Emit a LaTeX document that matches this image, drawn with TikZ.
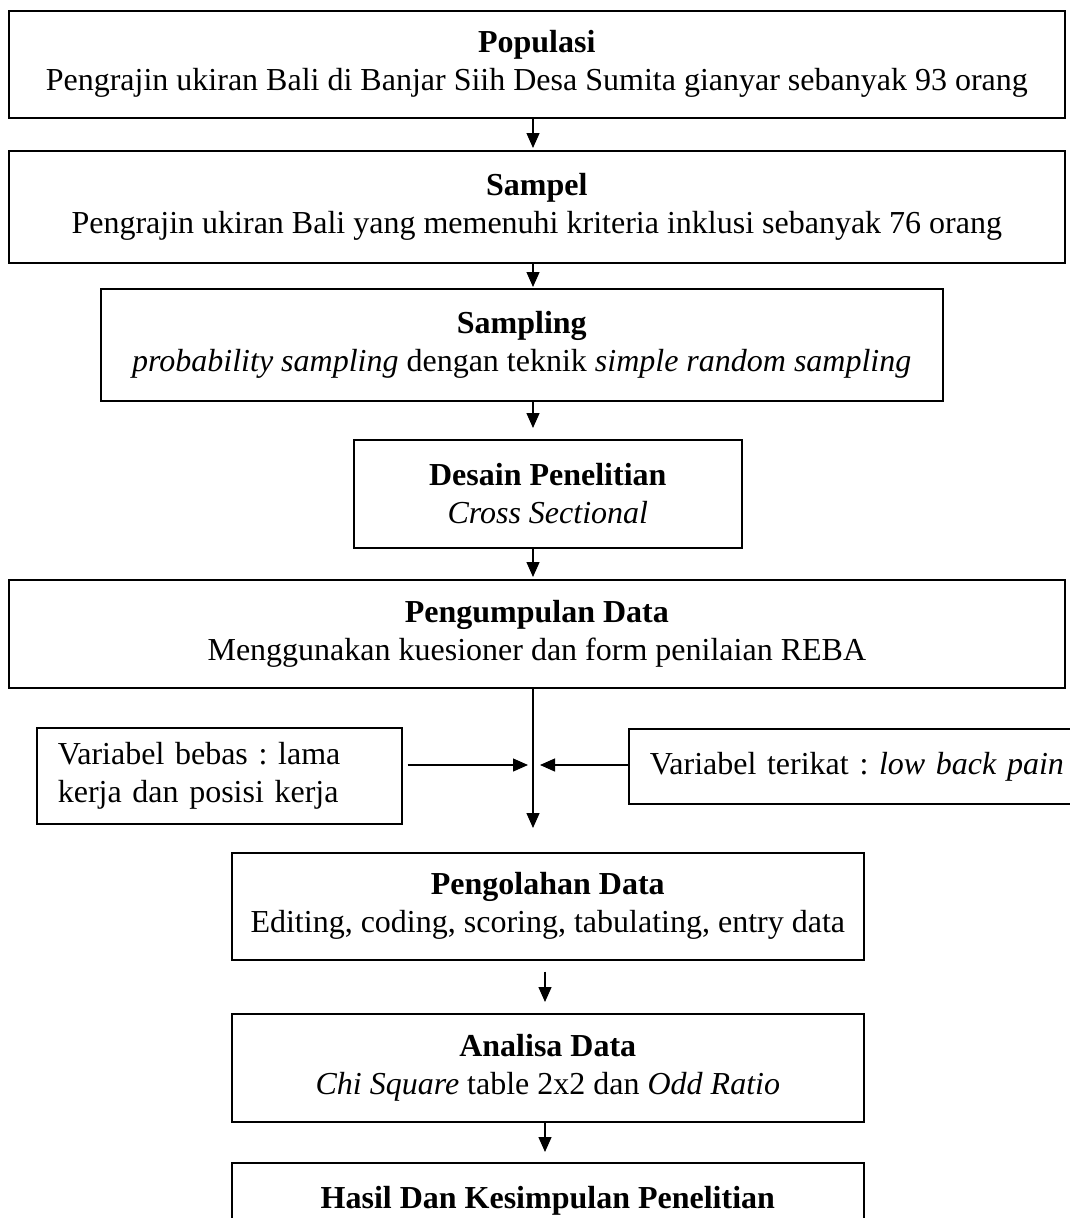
\documentclass[tikz,border=0pt]{standalone}
\usepackage{fontspec}
\setmainfont{Liberation Serif}
\usetikzlibrary{arrows.meta}
\begin{document}
\frenchspacing
\begin{tikzpicture}[x=1pt,y=-1pt,
  box/.style={draw, line width=1.6pt, inner sep=0pt, align=center, anchor=north west,
    font=\fontsize{32}{38}\selectfont\frenchspacing},
  varbox/.style={box, align=left, inner xsep=21pt},
  conn/.style={line width=1.3pt, -{Triangle[length=15pt,width=13pt]}}]
\useasboundingbox (0,0) rectangle (1070,1218);
\fill[white] (0,0) rectangle (1070,1218);

\node[box, minimum width=1056, minimum height=107] (pop) at (8,10)
  {\textbf{Populasi}\\Pengrajin ukiran Bali di Banjar Siih Desa Sumita gianyar sebanyak 93 orang};
\node[box, minimum width=1056, minimum height=112] (sam) at (8,150)
  {\textbf{Sampel}\\Pengrajin ukiran Bali yang memenuhi kriteria inklusi sebanyak 76 orang};
\node[box, minimum width=842, minimum height=112] (smp) at (100,288)
  {\textbf{Sampling}\\\textit{probability sampling} dengan teknik \textit{simple random sampling}};
\node[box, minimum width=388, minimum height=108] (des) at (353,439)
  {\textbf{Desain Penelitian}\\\textit{Cross Sectional}};
\node[box, minimum width=1056, minimum height=108] (pgd) at (8,579)
  {\textbf{Pengumpulan Data}\\Menggunakan kuesioner dan form penilaian REBA};
\node[varbox, text width=323, minimum height=96] (vb) at (36,727)
  {Variabel bebas : lama\\kerja dan posisi kerja};
\node[varbox, text width=420, minimum height=75] (vt) at (628,728)
  {Variabel terikat : \textit{low back pain}};
\node[box, minimum width=632, minimum height=107] (olah) at (231,852)
  {\textbf{Pengolahan Data}\\Editing, coding, scoring, tabulating, entry data};
\node[box, minimum width=632, minimum height=108] (anl) at (231,1013)
  {\textbf{Analisa Data}\\\textit{Chi Square} table 2x2 dan \textit{Odd Ratio}};
\node[box, minimum width=632, minimum height=108] (hsl) at (231,1162)
  {\textbf{Hasil Dan Kesimpulan Penelitian}\\\phantom{X}};

\coordinate (ax) at (533,0);
\coordinate (bx) at (545,0);
\coordinate (jl) at (528,765);
\coordinate (jr) at (540,765);

\draw[conn, shorten >=2pt] (pop.south -| ax) -- (sam.north -| ax);
\draw[conn, shorten >=1pt] (sam.south -| ax) -- (smp.north -| ax);
\draw[conn, shorten >=11pt] (smp.south -| ax) -- (des.north -| ax);
\draw[conn, shorten >=2pt] (des.south -| ax) -- (pgd.north -| ax);
\draw[conn, shorten >=24pt] (pgd.south -| ax) -- (olah.north -| ax);
\draw[conn] ([xshift=5pt]vb.east |- jl) -- (jl);
\draw[conn] (vt.west |- jr) -- (jr);
\draw[conn, shorten <=11pt, shorten >=11pt] (olah.south -| bx) -- (anl.north -| bx);
\draw[conn, shorten >=10pt] (anl.south -| bx) -- (hsl.north -| bx);
\end{tikzpicture}
\end{document}
